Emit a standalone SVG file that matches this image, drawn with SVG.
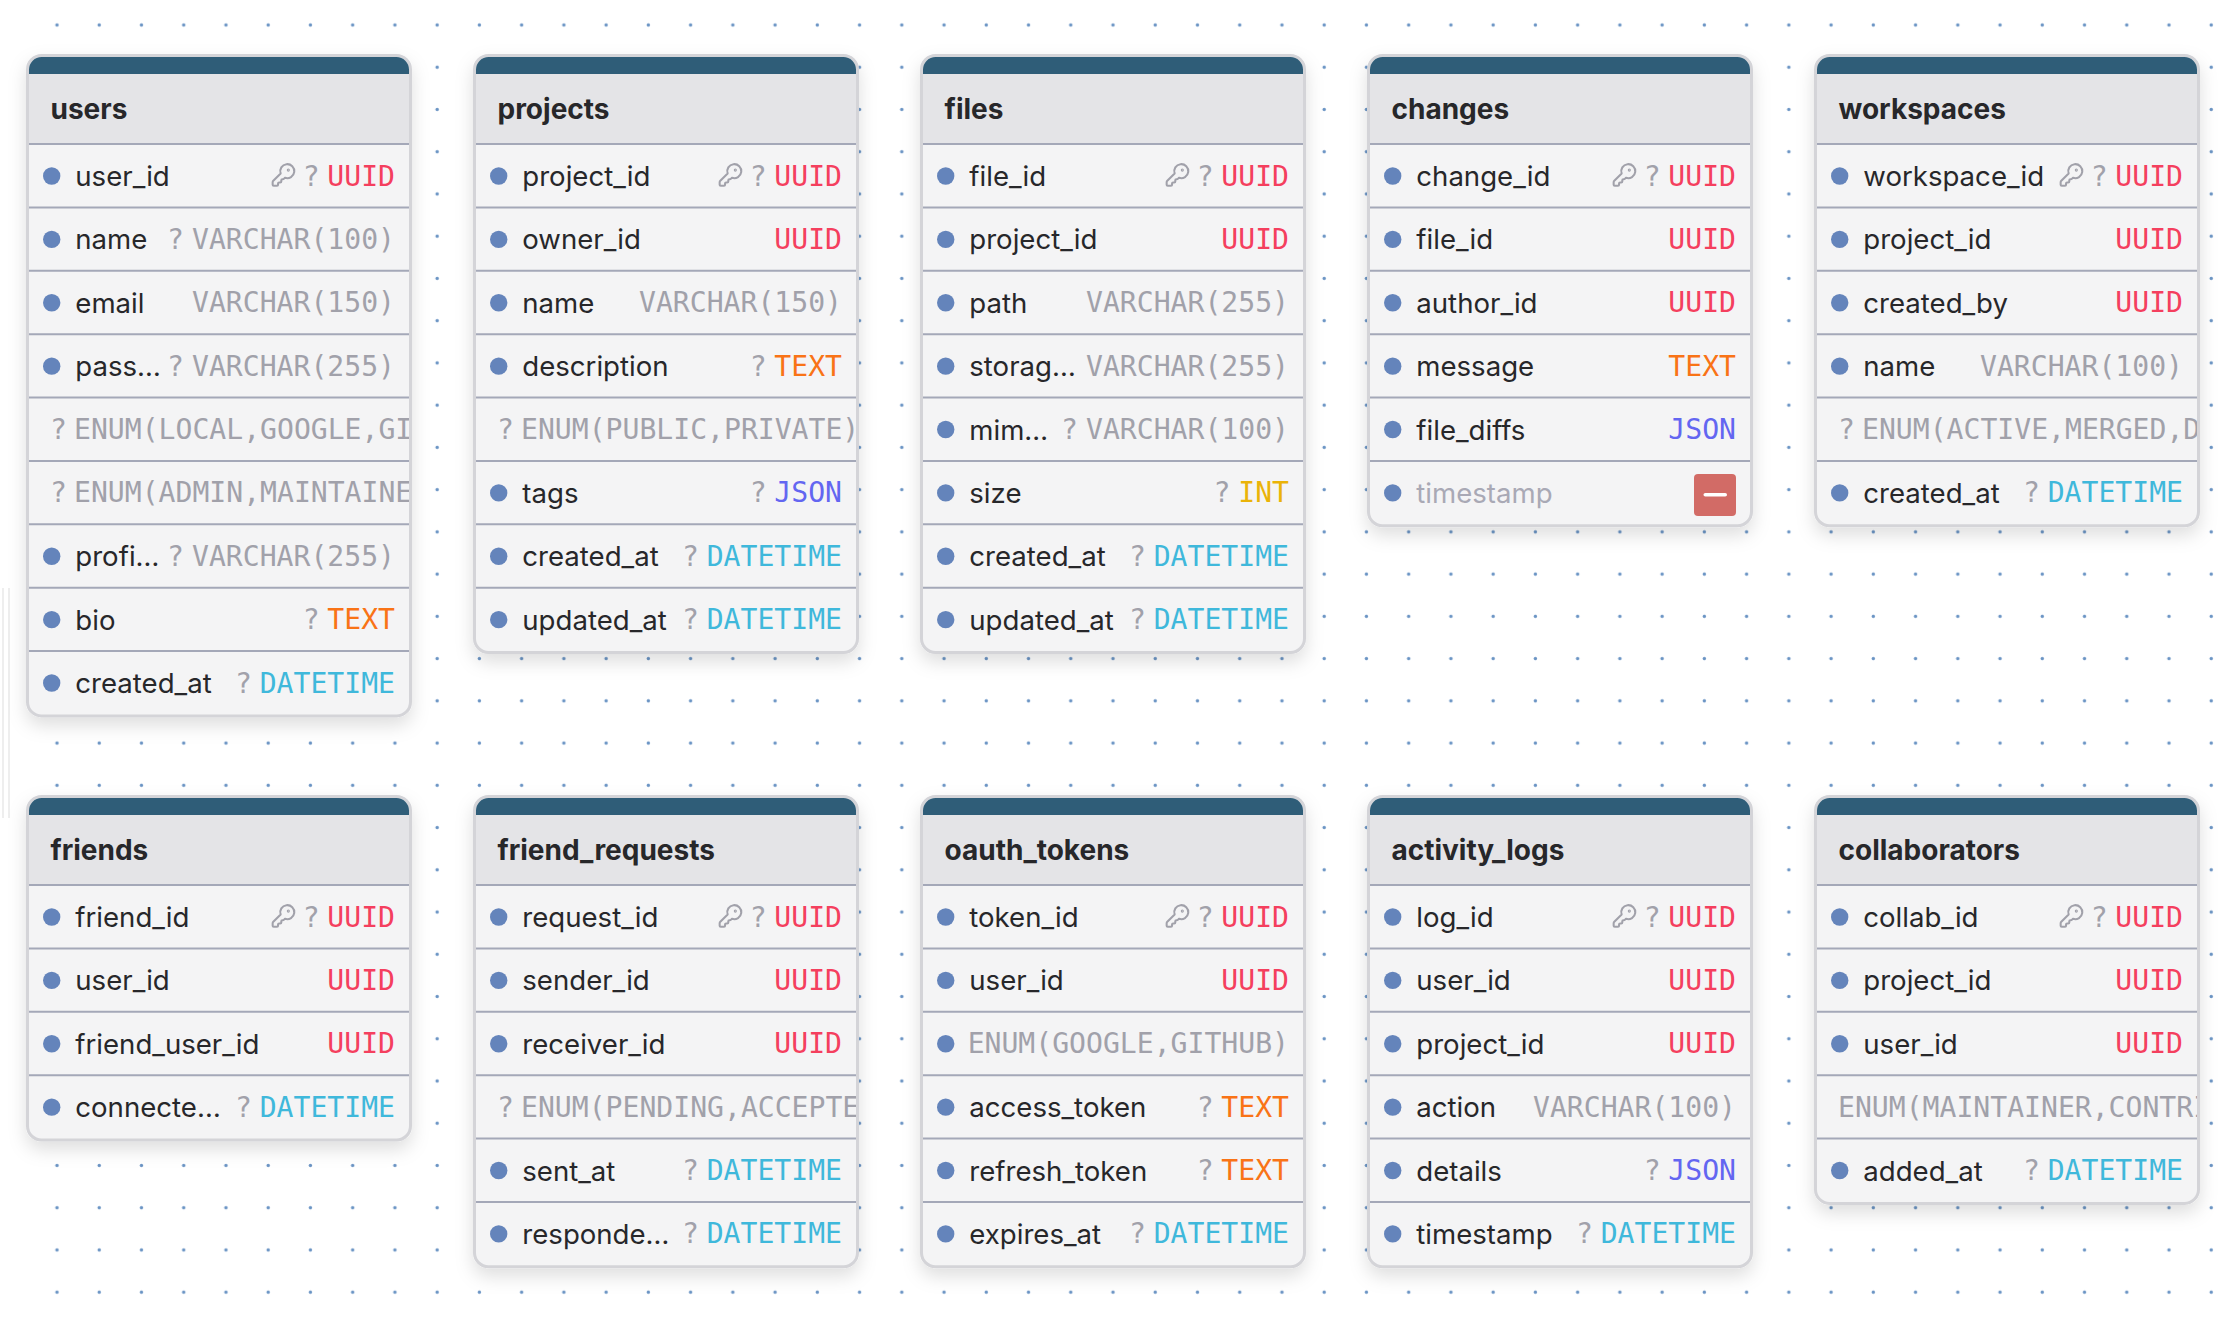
<svg xmlns="http://www.w3.org/2000/svg" width="2220" height="1324" viewBox="0 0 2220 1324">
<style>
.card{fill:#f4f4f5;stroke:#d4d4d8;stroke-width:3;filter:url(#sh)}
.bar{fill:#2f5d78}
.hd{fill:#e4e4e7}
.sep{stroke:#a4a8b8;stroke-width:2}
.title{font:700 28px Inter,"Liberation Sans",sans-serif;fill:#27272a}
.d{fill:#6484bb}
.n{font:400 27.6px Inter,"Liberation Sans",sans-serif;fill:#27272a}
.dim{fill:#a9a9b5}
.q,.t,.e{font:400 28.1px "DejaVu Sans Mono","Liberation Mono",monospace;fill:#a1a1aa}
.q,.t{text-anchor:end}
.uuid{fill:#f43f5e}.text{fill:#f97316}.json{fill:#6366f1}.int{fill:#eab308}.dt{fill:#3fb8db}
.key{fill:none;stroke:#a1a1aa;stroke-width:1.9;stroke-linejoin:round;stroke-linecap:round}
.vl{fill:#eeeeee}
</style>
<defs>
<filter id="sh" x="-15%" y="-15%" width="130%" height="130%"><feDropShadow dx="0" dy="8" stdDeviation="9" flood-color="#000" flood-opacity="0.13"/></filter>
<pattern id="grid" x="36" y="3.88" width="42.24" height="42.24" patternUnits="userSpaceOnUse"><circle cx="21" cy="21.12" r="1.7" fill="#6a94c4"/></pattern>
<clipPath id="cl"><rect x="29" y="0" width="380" height="70"/></clipPath>
<g id="top"><rect class="hd" x="29" y="70" width="380" height="74"/><path class="bar" d="M29 74V69.5A12.5 12.5 0 0 1 41.5 57H396.5A12.5 12.5 0 0 1 409 69.5V74Z"/></g>
<circle id="dot" class="d" cx="51.7" cy="32" r="8.7"/>
<g id="pk"><g transform="translate(270.5 162) scale(1.08) translate(0 -144)"><path class="key" d="M2.586 17.414A2 2 0 0 0 2 18.828V21a1 1 0 0 0 1 1h3a1 1 0 0 0 1-1v-1a1 1 0 0 1 1-1h1a1 1 0 0 0 1-1v-1a1 1 0 0 1 1-1h.172a2 2 0 0 0 1.414-.586l.814-.814a6.5 6.5 0 1 0-4-4z" transform="translate(0 144)"/><circle class="key" cx="16.5" cy="151.5" r=".5"/></g></g>
</defs>
<rect x="36" y="3.88" width="2184" height="1310" fill="url(#grid)"/>
<rect class="vl" x="2" y="588" width="2" height="230"/><rect class="vl" x="8" y="588" width="2" height="230"/>

<g id="users">
<rect class="card" x="27.5" y="55.5" width="383" height="660.4" rx="14"/><use href="#top"/><text class="title" x="50.5" y="119">users</text>
<g transform="translate(0 144)"><use href="#dot"/><text class="n" x="75.3" y="42">user_id</text><use href="#pk" y="-144"/><text class="q" x="319.6" y="41.6">?</text><text class="t uuid" x="395" y="41.6">UUID</text></g>
<g transform="translate(0 207.375)"><use href="#dot"/><text class="n" x="75.3" y="42">name</text><text class="q" x="184" y="41.6">?</text><text class="t" x="395" y="41.6">VARCHAR(100)</text></g>
<g transform="translate(0 270.75)"><use href="#dot"/><text class="n" x="75.3" y="42">email</text><text class="t" x="395" y="41.6">VARCHAR(150)</text></g>
<g transform="translate(0 334.125)"><use href="#dot"/><text class="n" x="75.3" y="42">pass…</text><text class="q" x="184" y="41.6">?</text><text class="t" x="395" y="41.6">VARCHAR(255)</text></g>
<g transform="translate(0 397.5)" clip-path="url(#cl)"><text class="e" x="50" y="41.6">?</text><text class="e" x="74" y="41.6">ENUM(LOCAL,GOOGLE,GI</text></g>
<g transform="translate(0 460.875)" clip-path="url(#cl)"><text class="e" x="50" y="41.6">?</text><text class="e" x="74" y="41.6">ENUM(ADMIN,MAINTAINE</text></g>
<g transform="translate(0 524.25)"><use href="#dot"/><text class="n" x="75.3" y="42">profi…</text><text class="q" x="184" y="41.6">?</text><text class="t" x="395" y="41.6">VARCHAR(255)</text></g>
<g transform="translate(0 587.625)"><use href="#dot"/><text class="n" x="75.3" y="42">bio</text><text class="q" x="319.6" y="41.6">?</text><text class="t text" x="395" y="41.6">TEXT</text></g>
<g transform="translate(0 651)"><use href="#dot"/><text class="n" x="75.3" y="42">created_at</text><text class="q" x="252" y="41.6">?</text><text class="t dt" x="395" y="41.6">DATETIME</text></g>
<path class="sep" d="M29 144H409M29 207.375H409M29 270.75H409M29 334.125H409M29 397.5H409M29 460.875H409M29 524.25H409M29 587.625H409M29 651H409"/>
</g>

<g id="projects" transform="translate(447 0)">
<rect class="card" x="27.5" y="55.5" width="383" height="597" rx="14"/><use href="#top"/><text class="title" x="50.5" y="119">projects</text>
<g transform="translate(0 144)"><use href="#dot"/><text class="n" x="75.3" y="42">project_id</text><use href="#pk" y="-144"/><text class="q" x="319.6" y="41.6">?</text><text class="t uuid" x="395" y="41.6">UUID</text></g>
<g transform="translate(0 207.375)"><use href="#dot"/><text class="n" x="75.3" y="42">owner_id</text><text class="t uuid" x="395" y="41.6">UUID</text></g>
<g transform="translate(0 270.75)"><use href="#dot"/><text class="n" x="75.3" y="42">name</text><text class="t" x="395" y="41.6">VARCHAR(150)</text></g>
<g transform="translate(0 334.125)"><use href="#dot"/><text class="n" x="75.3" y="42">description</text><text class="q" x="319.6" y="41.6">?</text><text class="t text" x="395" y="41.6">TEXT</text></g>
<g transform="translate(0 397.5)" clip-path="url(#cl)"><text class="e" x="50" y="41.6">?</text><text class="e" x="74" y="41.6">ENUM(PUBLIC,PRIVATE)</text></g>
<g transform="translate(0 460.875)"><use href="#dot"/><text class="n" x="75.3" y="42">tags</text><text class="q" x="319.6" y="41.6">?</text><text class="t json" x="395" y="41.6">JSON</text></g>
<g transform="translate(0 524.25)"><use href="#dot"/><text class="n" x="75.3" y="42">created_at</text><text class="q" x="252" y="41.6">?</text><text class="t dt" x="395" y="41.6">DATETIME</text></g>
<g transform="translate(0 587.625)"><use href="#dot"/><text class="n" x="75.3" y="42">updated_at</text><text class="q" x="252" y="41.6">?</text><text class="t dt" x="395" y="41.6">DATETIME</text></g>
<path class="sep" d="M29 144H409M29 207.375H409M29 270.75H409M29 334.125H409M29 397.5H409M29 460.875H409M29 524.25H409M29 587.625H409"/>
</g>

<g id="files" transform="translate(894 0)">
<rect class="card" x="27.5" y="55.5" width="383" height="597" rx="14"/><use href="#top"/><text class="title" x="50.5" y="119">files</text>
<g transform="translate(0 144)"><use href="#dot"/><text class="n" x="75.3" y="42">file_id</text><use href="#pk" y="-144"/><text class="q" x="319.6" y="41.6">?</text><text class="t uuid" x="395" y="41.6">UUID</text></g>
<g transform="translate(0 207.375)"><use href="#dot"/><text class="n" x="75.3" y="42">project_id</text><text class="t uuid" x="395" y="41.6">UUID</text></g>
<g transform="translate(0 270.75)"><use href="#dot"/><text class="n" x="75.3" y="42">path</text><text class="t" x="395" y="41.6">VARCHAR(255)</text></g>
<g transform="translate(0 334.125)"><use href="#dot"/><text class="n" x="75.3" y="42">storag…</text><text class="t" x="395" y="41.6">VARCHAR(255)</text></g>
<g transform="translate(0 397.5)"><use href="#dot"/><text class="n" x="75.3" y="42">mim…</text><text class="q" x="184" y="41.6">?</text><text class="t" x="395" y="41.6">VARCHAR(100)</text></g>
<g transform="translate(0 460.875)"><use href="#dot"/><text class="n" x="75.3" y="42">size</text><text class="q" x="336.4" y="41.6">?</text><text class="t int" x="395" y="41.6">INT</text></g>
<g transform="translate(0 524.25)"><use href="#dot"/><text class="n" x="75.3" y="42">created_at</text><text class="q" x="252" y="41.6">?</text><text class="t dt" x="395" y="41.6">DATETIME</text></g>
<g transform="translate(0 587.625)"><use href="#dot"/><text class="n" x="75.3" y="42">updated_at</text><text class="q" x="252" y="41.6">?</text><text class="t dt" x="395" y="41.6">DATETIME</text></g>
<path class="sep" d="M29 144H409M29 207.375H409M29 270.75H409M29 334.125H409M29 397.5H409M29 460.875H409M29 524.25H409M29 587.625H409"/>
</g>

<g id="changes" transform="translate(1341 0)">
<rect class="card" x="27.5" y="55.5" width="383" height="470.25" rx="14"/><use href="#top"/><text class="title" x="50.5" y="119">changes</text>
<g transform="translate(0 144)"><use href="#dot"/><text class="n" x="75.3" y="42">change_id</text><use href="#pk" y="-144"/><text class="q" x="319.6" y="41.6">?</text><text class="t uuid" x="395" y="41.6">UUID</text></g>
<g transform="translate(0 207.375)"><use href="#dot"/><text class="n" x="75.3" y="42">file_id</text><text class="t uuid" x="395" y="41.6">UUID</text></g>
<g transform="translate(0 270.75)"><use href="#dot"/><text class="n" x="75.3" y="42">author_id</text><text class="t uuid" x="395" y="41.6">UUID</text></g>
<g transform="translate(0 334.125)"><use href="#dot"/><text class="n" x="75.3" y="42">message</text><text class="t text" x="395" y="41.6">TEXT</text></g>
<g transform="translate(0 397.5)"><use href="#dot"/><text class="n" x="75.3" y="42">file_diffs</text><text class="t json" x="395" y="41.6">JSON</text></g>
<g transform="translate(0 460.875)"><use href="#dot"/><text class="n dim" x="75.3" y="42.6">timestamp</text><rect x="353" y="13" width="42" height="42" rx="4" fill="#d26b66"/><rect x="362.5" y="32" width="23.5" height="3.6" rx="1.8" fill="#fff"/></g>
<path class="sep" d="M29 144H409M29 207.375H409M29 270.75H409M29 334.125H409M29 397.5H409M29 460.875H409"/>
</g>

<g id="workspaces" transform="translate(1788 0)">
<rect class="card" x="27.5" y="55.5" width="383" height="470.25" rx="14"/><use href="#top"/><text class="title" x="50.5" y="119">workspaces</text>
<g transform="translate(0 144)"><use href="#dot"/><text class="n" x="75.3" y="42">workspace_id</text><use href="#pk" y="-144"/><text class="q" x="319.6" y="41.6">?</text><text class="t uuid" x="395" y="41.6">UUID</text></g>
<g transform="translate(0 207.375)"><use href="#dot"/><text class="n" x="75.3" y="42">project_id</text><text class="t uuid" x="395" y="41.6">UUID</text></g>
<g transform="translate(0 270.75)"><use href="#dot"/><text class="n" x="75.3" y="42">created_by</text><text class="t uuid" x="395" y="41.6">UUID</text></g>
<g transform="translate(0 334.125)"><use href="#dot"/><text class="n" x="75.3" y="42">name</text><text class="t" x="395" y="41.6">VARCHAR(100)</text></g>
<g transform="translate(0 397.5)" clip-path="url(#cl)"><text class="e" x="50" y="41.6">?</text><text class="e" x="74" y="41.6">ENUM(ACTIVE,MERGED,D</text></g>
<g transform="translate(0 460.875)"><use href="#dot"/><text class="n" x="75.3" y="42">created_at</text><text class="q" x="252" y="41.6">?</text><text class="t dt" x="395" y="41.6">DATETIME</text></g>
<path class="sep" d="M29 144H409M29 207.375H409M29 270.75H409M29 334.125H409M29 397.5H409M29 460.875H409"/>
</g>

<g id="friends" transform="translate(0 741)">
<rect class="card" x="27.5" y="55.5" width="383" height="343.5" rx="14"/><use href="#top"/><text class="title" x="50.5" y="119">friends</text>
<g transform="translate(0 144)"><use href="#dot"/><text class="n" x="75.3" y="42">friend_id</text><use href="#pk" y="-144"/><text class="q" x="319.6" y="41.6">?</text><text class="t uuid" x="395" y="41.6">UUID</text></g>
<g transform="translate(0 207.375)"><use href="#dot"/><text class="n" x="75.3" y="42">user_id</text><text class="t uuid" x="395" y="41.6">UUID</text></g>
<g transform="translate(0 270.75)"><use href="#dot"/><text class="n" x="75.3" y="42">friend_user_id</text><text class="t uuid" x="395" y="41.6">UUID</text></g>
<g transform="translate(0 334.125)"><use href="#dot"/><text class="n" x="75.3" y="42">connecte…</text><text class="q" x="252" y="41.6">?</text><text class="t dt" x="395" y="41.6">DATETIME</text></g>
<path class="sep" d="M29 144H409M29 207.375H409M29 270.75H409M29 334.125H409"/>
</g>

<g id="friend_requests" transform="translate(447 741)">
<rect class="card" x="27.5" y="55.5" width="383" height="470.25" rx="14"/><use href="#top"/><text class="title" x="50.5" y="119">friend_requests</text>
<g transform="translate(0 144)"><use href="#dot"/><text class="n" x="75.3" y="42">request_id</text><use href="#pk" y="-144"/><text class="q" x="319.6" y="41.6">?</text><text class="t uuid" x="395" y="41.6">UUID</text></g>
<g transform="translate(0 207.375)"><use href="#dot"/><text class="n" x="75.3" y="42">sender_id</text><text class="t uuid" x="395" y="41.6">UUID</text></g>
<g transform="translate(0 270.75)"><use href="#dot"/><text class="n" x="75.3" y="42">receiver_id</text><text class="t uuid" x="395" y="41.6">UUID</text></g>
<g transform="translate(0 334.125)" clip-path="url(#cl)"><text class="e" x="50" y="41.6">?</text><text class="e" x="74" y="41.6">ENUM(PENDING,ACCEPTE</text></g>
<g transform="translate(0 397.5)"><use href="#dot"/><text class="n" x="75.3" y="42">sent_at</text><text class="q" x="252" y="41.6">?</text><text class="t dt" x="395" y="41.6">DATETIME</text></g>
<g transform="translate(0 460.875)"><use href="#dot"/><text class="n" x="75.3" y="42">responde…</text><text class="q" x="252" y="41.6">?</text><text class="t dt" x="395" y="41.6">DATETIME</text></g>
<path class="sep" d="M29 144H409M29 207.375H409M29 270.75H409M29 334.125H409M29 397.5H409M29 460.875H409"/>
</g>

<g id="oauth_tokens" transform="translate(894 741)">
<rect class="card" x="27.5" y="55.5" width="383" height="470.25" rx="14"/><use href="#top"/><text class="title" x="50.5" y="119">oauth_tokens</text>
<g transform="translate(0 144)"><use href="#dot"/><text class="n" x="75.3" y="42">token_id</text><use href="#pk" y="-144"/><text class="q" x="319.6" y="41.6">?</text><text class="t uuid" x="395" y="41.6">UUID</text></g>
<g transform="translate(0 207.375)"><use href="#dot"/><text class="n" x="75.3" y="42">user_id</text><text class="t uuid" x="395" y="41.6">UUID</text></g>
<g transform="translate(0 270.75)"><use href="#dot"/><text class="t" x="395" y="41.6">ENUM(GOOGLE,GITHUB)</text></g>
<g transform="translate(0 334.125)"><use href="#dot"/><text class="n" x="75.3" y="42">access_token</text><text class="q" x="319.6" y="41.6">?</text><text class="t text" x="395" y="41.6">TEXT</text></g>
<g transform="translate(0 397.5)"><use href="#dot"/><text class="n" x="75.3" y="42">refresh_token</text><text class="q" x="319.6" y="41.6">?</text><text class="t text" x="395" y="41.6">TEXT</text></g>
<g transform="translate(0 460.875)"><use href="#dot"/><text class="n" x="75.3" y="42">expires_at</text><text class="q" x="252" y="41.6">?</text><text class="t dt" x="395" y="41.6">DATETIME</text></g>
<path class="sep" d="M29 144H409M29 207.375H409M29 270.75H409M29 334.125H409M29 397.5H409M29 460.875H409"/>
</g>

<g id="activity_logs" transform="translate(1341 741)">
<rect class="card" x="27.5" y="55.5" width="383" height="470.25" rx="14"/><use href="#top"/><text class="title" x="50.5" y="119">activity_logs</text>
<g transform="translate(0 144)"><use href="#dot"/><text class="n" x="75.3" y="42">log_id</text><use href="#pk" y="-144"/><text class="q" x="319.6" y="41.6">?</text><text class="t uuid" x="395" y="41.6">UUID</text></g>
<g transform="translate(0 207.375)"><use href="#dot"/><text class="n" x="75.3" y="42">user_id</text><text class="t uuid" x="395" y="41.6">UUID</text></g>
<g transform="translate(0 270.75)"><use href="#dot"/><text class="n" x="75.3" y="42">project_id</text><text class="t uuid" x="395" y="41.6">UUID</text></g>
<g transform="translate(0 334.125)"><use href="#dot"/><text class="n" x="75.3" y="42">action</text><text class="t" x="395" y="41.6">VARCHAR(100)</text></g>
<g transform="translate(0 397.5)"><use href="#dot"/><text class="n" x="75.3" y="42">details</text><text class="q" x="319.6" y="41.6">?</text><text class="t json" x="395" y="41.6">JSON</text></g>
<g transform="translate(0 460.875)"><use href="#dot"/><text class="n" x="75.3" y="42">timestamp</text><text class="q" x="252" y="41.6">?</text><text class="t dt" x="395" y="41.6">DATETIME</text></g>
<path class="sep" d="M29 144H409M29 207.375H409M29 270.75H409M29 334.125H409M29 397.5H409M29 460.875H409"/>
</g>

<g id="collaborators" transform="translate(1788 741)">
<rect class="card" x="27.5" y="55.5" width="383" height="406.875" rx="14"/><use href="#top"/><text class="title" x="50.5" y="119">collaborators</text>
<g transform="translate(0 144)"><use href="#dot"/><text class="n" x="75.3" y="42">collab_id</text><use href="#pk" y="-144"/><text class="q" x="319.6" y="41.6">?</text><text class="t uuid" x="395" y="41.6">UUID</text></g>
<g transform="translate(0 207.375)"><use href="#dot"/><text class="n" x="75.3" y="42">project_id</text><text class="t uuid" x="395" y="41.6">UUID</text></g>
<g transform="translate(0 270.75)"><use href="#dot"/><text class="n" x="75.3" y="42">user_id</text><text class="t uuid" x="395" y="41.6">UUID</text></g>
<g transform="translate(0 334.125)" clip-path="url(#cl)"><text class="e" x="50" y="41.6">ENUM(MAINTAINER,CONTRI</text></g>
<g transform="translate(0 397.5)"><use href="#dot"/><text class="n" x="75.3" y="42">added_at</text><text class="q" x="252" y="41.6">?</text><text class="t dt" x="395" y="41.6">DATETIME</text></g>
<path class="sep" d="M29 144H409M29 207.375H409M29 270.75H409M29 334.125H409M29 397.5H409"/>
</g>
</svg>
